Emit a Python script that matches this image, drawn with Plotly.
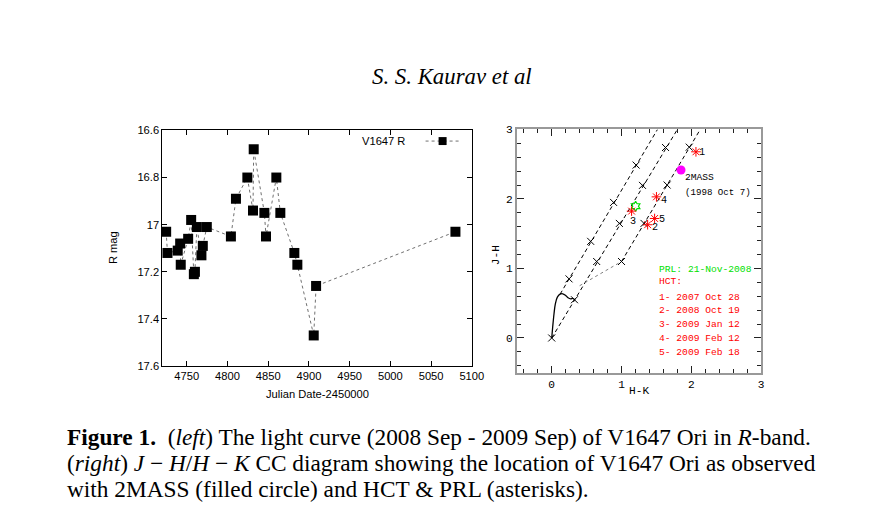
import plotly.graph_objects as go

# ---------------- data: left panel (light curve) ----------------
jd = [4724.7, 4726.3, 4738.9, 4741.9, 4742.6, 4751.7, 4755.4, 4758.7, 4760.0,
      4762.4, 4768.0, 4769.7, 4774.6, 4804.2, 4810.4, 4824.4, 4831.3, 4832.2,
      4845.3, 4847.3, 4860.0, 4864.9, 4882.1, 4885.8, 4905.9, 4908.8, 5079.9]
rmag = [17.03, 17.12, 17.11, 17.08, 17.17, 17.06, 16.98, 17.21, 17.20,
        17.01, 17.13, 17.09, 17.01, 17.05, 16.89, 16.80, 16.94, 16.68,
        16.95, 17.05, 16.80, 16.95, 17.12, 17.17, 17.47, 17.26, 17.03]
jd_ticks = [4750, 4800, 4850, 4900, 4950, 5000, 5050, 5100]
r_ticks = [16.6, 16.8, 17.0, 17.2, 17.4, 17.6]
r_ticktext = ["16.6", "16.8", "17", "17.2", "17.4", "17.6"]

# ---------------- data: right panel (CC diagram) ----------------
dwarf_hk = [0.0, 0.014, 0.033, 0.052, 0.081, 0.119, 0.158, 0.196, 0.234, 0.273, 0.301, 0.330]
dwarf_jh = [0.0, 0.158, 0.349, 0.492, 0.587, 0.630, 0.636, 0.616, 0.579, 0.564, 0.569, 0.550]

redv_left_hk, redv_left_jh = [0.12, 1.515], [0.63, 3.0]
redv_mid_hk, redv_mid_jh = [0.0, 1.80], [0.0, 3.0]
redv_right_hk, redv_right_jh = [1.0, 2.128], [1.1, 3.0]
ctts_hk, ctts_jh = [0.40, 1.0], [0.752, 1.1]

av_hk = [0.248, 0.558, 0.886, 1.209,
         0.0, 0.326, 0.644, 0.969, 1.300, 1.630,
         1.0, 1.322, 1.653, 1.970]
av_jh = [0.850, 1.390, 1.950, 2.487,
         0.0, 0.550, 1.100, 1.648, 2.195, 2.740,
         1.100, 1.648, 2.200, 2.745]

hct_hk = [2.066, 1.374, 1.144, 1.500, 1.474]
hct_jh = [2.678, 1.629, 1.825, 2.030, 1.719]
hct_lab = ["1", "2", "3", "4", "5"]
hct_lab_shift = [(6, -1), (7, -3), (1, -10), (7, -4), (7, -1)]

prl_hk, prl_jh = [1.202], [1.895]
tmass_hk, tmass_jh = [1.852], [2.417]

cc_ticks = [0, 1, 2, 3]
legend_green = "PRL: 21-Nov-2008"
legend_red = ["HCT:", "1- 2007 Oct 28", "2- 2008 Oct 19", "3- 2009 Jan 12",
              "4- 2009 Feb 12", "5- 2009 Feb 18"]
legend_x = 1.508
legend_y = [0.989, 0.812, 0.588, 0.397, 0.192, -0.01, -0.21]

W, H = 870, 521
S = 0.986          # compensation for the slight downscale of the photographed page
F = 1.0 / S
def px(x): return x / S / W
def py(y):
    y = y - (4.0 - (y - 75.0) * 2.0 / 414.0)   # small vertical offset compensation
    return 1 - y / S / H
def fs(v): return round(v * F, 2)

MONO = "Liberation Mono, DejaVu Sans Mono, monospace"
SANS = "Liberation Sans, Arial, sans-serif"
SERIF = "Liberation Serif, DejaVu Serif, serif"

fig = go.Figure()

fig.add_trace(go.Scatter(
    x=jd, y=rmag, mode="lines+markers", name="V1647 R",
    line=dict(color="#707070", width=1, dash="dot"),
    marker=dict(symbol="square", size=10, color="black"),
    cliponaxis=False, xaxis="x", yaxis="y"))

fig.add_trace(go.Scatter(x=dwarf_hk, y=dwarf_jh, mode="lines",
                         line=dict(color="black", width=1.3, shape="spline"),
                         xaxis="x2", yaxis="y2"))
for hk, jh in [(redv_left_hk, redv_left_jh), (redv_mid_hk, redv_mid_jh),
               (redv_right_hk, redv_right_jh)]:
    fig.add_trace(go.Scatter(x=hk, y=jh, mode="lines",
                             line=dict(color="black", width=1, dash="4px,3px"),
                             xaxis="x2", yaxis="y2"))
fig.add_trace(go.Scatter(x=ctts_hk, y=ctts_jh, mode="lines",
                         line=dict(color="#808080", width=1, dash="dot"),
                         xaxis="x2", yaxis="y2"))
fig.add_trace(go.Scatter(x=av_hk, y=av_jh, mode="markers",
                         marker=dict(symbol="x-thin-open", size=7, color="black",
                                     line=dict(color="black", width=1)),
                         xaxis="x2", yaxis="y2"))
fig.add_trace(go.Scatter(x=tmass_hk, y=tmass_jh, mode="markers",
                         marker=dict(symbol="circle", size=9, color="#ff00ff"),
                         xaxis="x2", yaxis="y2"))
fig.add_trace(go.Scatter(x=prl_hk, y=prl_jh, mode="markers",
                         marker=dict(symbol="hexagram-open", size=7.5, color="#00e000",
                                     line=dict(color="#00e000", width=1.2)),
                         xaxis="x2", yaxis="y2"))
fig.add_trace(go.Scatter(x=hct_hk, y=hct_jh, mode="markers",
                         marker=dict(symbol="asterisk-open", size=8, color="#ff0000",
                                     line=dict(color="#ff0000", width=1)),
                         xaxis="x2", yaxis="y2"))

annotations = []
def ann(**kw):
    kw.setdefault("showarrow", False)
    kw.setdefault("xanchor", "center")
    kw.setdefault("yanchor", "middle")
    annotations.append(kw)

for hk, jh, lab, (dx, dy) in zip(hct_hk, hct_jh, hct_lab, hct_lab_shift):
    ann(x=hk, y=jh, xref="x2", yref="y2", text=lab, xshift=dx * F, yshift=dy * F,
        font=dict(family=MONO, size=fs(10), color="black"))
ann(x=tmass_hk[0], y=tmass_jh[0], xref="x2", yref="y2", text="2MASS",
    xanchor="left", xshift=2 * F, yshift=-7 * F,
    font=dict(family=MONO, size=fs(9.5), color="black"))
ann(x=tmass_hk[0], y=tmass_jh[0], xref="x2", yref="y2", text="(1998 Oct 7)",
    xanchor="left", xshift=2 * F, yshift=-22 * F,
    font=dict(family=MONO, size=fs(9), color="black"))
ann(x=legend_x, y=legend_y[0], xref="x2", yref="y2", text=legend_green,
    xanchor="left", font=dict(family=MONO, size=fs(9.5), color="#00e000"))
for t, yy in zip(legend_red, legend_y[1:]):
    ann(x=legend_x, y=yy, xref="x2", yref="y2", text=t, xanchor="left",
        font=dict(family=MONO, size=fs(9.5), color="#ff0000"))

ann(x=px(317), y=py(394), xref="paper", yref="paper", text="Julian Date-2450000",
    font=dict(family=SANS, size=fs(11), color="black"))
ann(x=px(113), y=py(247.5), xref="paper", yref="paper", text="R mag",
    textangle=-90, font=dict(family=SANS, size=fs(11), color="black"))
ann(x=px(638.5), y=py(391.5), xref="paper", yref="paper", text="H-K",
    font=dict(family=MONO, size=fs(11), color="black"))
ann(x=px(495.5), y=py(255), xref="paper", yref="paper", text="J-H",
    textangle=-90, font=dict(family=MONO, size=fs(11), color="black"))
ann(x=px(407), y=py(140), xref="paper", yref="paper", text="V1647 R",
    xanchor="right", font=dict(family=SANS, size=fs(11), color="black"))
ann(x=px(452), y=py(75), xref="paper", yref="paper",
    text="<i>S. S. Kaurav et al</i>",
    font=dict(family=SERIF, size=fs(22.5), color="black"))
caption = [
    "<b>Figure 1.</b>  (<i>left</i>) The light curve (2008 Sep - 2009 Sep) of V1647 Ori in <i>R</i>-band.",
    "(<i>right</i>) <i>J</i> − <i>H</i>/<i>H</i> − <i>K</i> CC diagram showing the location of V1647 Ori as observed",
    "with 2MASS (filled circle) and HCT & PRL (asterisks).",
]
for i, t in enumerate(caption):
    ann(x=px(65), y=py(437.5 + 26 * i), xref="paper", yref="paper",
        text=t, xanchor="left",
        font=dict(family=SERIF, size=fs(23), color="black"))

shapes = [
    dict(type="line", xref="paper", yref="paper", x0=px(425.5), x1=px(460),
         y0=py(140), y1=py(140), line=dict(color="#707070", width=1, dash="dot")),
    dict(type="rect", xref="paper", yref="paper", x0=px(438.5), x1=px(446.5),
         y0=py(144), y1=py(136), line=dict(width=0), fillcolor="black"),
]

left_axis = dict(showgrid=False, zeroline=False, ticks="inside", ticklen=5,
                 tickcolor="black", linecolor="black", linewidth=1, mirror="allticks",
                 showline=True, tickfont=dict(family=SANS, size=fs(11), color="black"))
right_axis = dict(showgrid=False, zeroline=False, ticks="inside", ticklen=7,
                  tickcolor="#222222", linecolor="#999999", linewidth=1.5,
                  mirror="allticks", showline=True, tickwidth=1,
                  tickvals=cc_ticks, ticktext=[str(t) for t in cc_ticks],
                  minor=dict(dtick=0.2, ticks="inside", ticklen=4, tickcolor="#222222",
                             showgrid=False),
                  tickfont=dict(family=MONO, size=fs(11), color="black"))

fig.update_layout(
    width=W, height=H, autosize=False,
    margin=dict(l=0, r=0, t=0, b=0, pad=0),
    paper_bgcolor="white", plot_bgcolor="white",
    showlegend=False,
    xaxis=dict(domain=[px(162.3), px(471.7)], range=[4720, 5100], anchor="y",
               tickvals=jd_ticks, **left_axis),
    yaxis=dict(domain=[py(366), py(129.3)], range=[17.6, 16.6], anchor="x",
               tickvals=r_ticks, ticktext=r_ticktext, **left_axis),
    xaxis2=dict(domain=[px(516.7), px(761)], range=[-0.5, 3], anchor="y2", **right_axis),
    yaxis2=dict(domain=[py(372.7), py(128.3)], range=[-0.5, 3], anchor="x2", **right_axis),
    annotations=annotations,
    shapes=shapes,
)

post = """
document.documentElement.style.margin='0';
document.documentElement.style.overflow='hidden';
document.body.style.margin='0';
document.body.style.overflow='hidden';
"""
fig.write_html("out.html", config={"displayModeBar": False}, post_script=post)
